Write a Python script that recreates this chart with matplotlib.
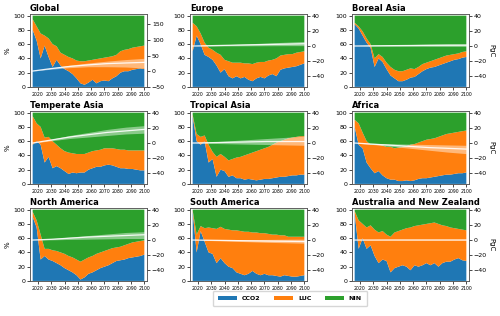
import matplotlib
matplotlib.use("Agg")
import matplotlib.pyplot as plt

years = [2016, 2019, 2022, 2025, 2028, 2031, 2034, 2037, 2040, 2043, 2046, 2049, 2052, 2055,
         2058, 2061, 2064, 2067, 2070, 2073, 2076, 2079, 2082, 2085, 2088, 2091, 2094, 2097, 2100]
pgc_years = [2016, 2030, 2044, 2058, 2072, 2086, 2100]

regions = ["Global", "Europe", "Boreal Asia", "Temperate Asia", "Tropical Asia", "Africa",
           "North America", "South America", "Australia and New Zealand"]

# CCO2 share (%)
cco2 = {
    "Global": [80, 65, 40, 58, 42, 28, 38, 30, 25, 22, 18, 12, 5, 3, 6, 10, 5, 8, 9, 8, 12, 15, 20, 22, 22, 24, 25, 26, 25],
    "Europe": [50, 72, 60, 45, 42, 38, 30, 20, 25, 15, 12, 15, 12, 14, 10, 8, 12, 14, 12, 16, 18, 15, 24, 26, 27, 28, 29, 31, 33],
    "Boreal Asia": [88, 82, 72, 62, 55, 28, 40, 35, 25, 16, 12, 8, 8, 10, 13, 14, 18, 22, 25, 27, 28, 30, 32, 34, 36, 38, 39, 41, 42],
    "Temperate Asia": [55, 60, 55, 30, 38, 22, 25, 22, 18, 14, 16, 15, 16, 16, 20, 22, 24, 24, 26, 27, 26, 24, 22, 22, 21, 21, 20, 19, 19],
    "Tropical Asia": [95, 60, 55, 60, 30, 35, 10, 20, 18, 10, 12, 8, 8, 6, 7, 6, 5, 6, 7, 7, 8, 9, 10, 10, 11, 12, 12, 13, 13],
    "Africa": [80, 55, 50, 30, 22, 15, 18, 12, 8, 6, 6, 4, 4, 5, 4, 5, 7, 8, 8, 9, 10, 11, 12, 13, 13, 14, 15, 15, 16],
    "North America": [90, 75, 30, 35, 30, 28, 25, 22, 18, 15, 12, 8, 2, 5, 10, 12, 15, 18, 20, 22, 25, 28, 29, 30, 32, 33, 34, 35, 37],
    "South America": [98, 40, 70, 55, 40, 38, 25, 32, 25, 20, 18, 12, 10, 8, 10, 14, 10, 8, 10, 8, 8, 7, 6, 8, 7, 6, 6, 7, 8],
    "Australia and New Zealand": [95, 45, 60, 45, 50, 35, 25, 30, 28, 12, 18, 20, 22, 20, 15, 22, 20, 22, 25, 22, 25, 20, 25, 27, 27, 30, 32, 29, 28],
}
# CCO2 + LUC (%), NIN fills the rest up to 100
cco2_luc = {
    "Global": [95, 85, 75, 72, 68, 60, 57, 48, 45, 42, 40, 37, 36, 36, 37, 38, 39, 40, 41, 42, 43, 45, 50, 52, 53, 55, 56, 57, 58],
    "Europe": [90, 85, 75, 62, 55, 52, 48, 45, 38, 36, 34, 34, 34, 33, 33, 32, 34, 35, 35, 37, 38, 40, 44, 45, 46, 46, 48, 49, 50],
    "Boreal Asia": [90, 85, 78, 68, 60, 40, 46, 42, 34, 28, 24, 22, 22, 24, 26, 25, 28, 32, 34, 36, 38, 40, 42, 44, 45, 46, 47, 49, 50],
    "Temperate Asia": [95, 85, 80, 65, 66, 60, 55, 50, 46, 44, 43, 42, 42, 42, 44, 46, 47, 48, 50, 50, 50, 49, 48, 48, 47, 47, 47, 47, 47],
    "Tropical Asia": [97, 70, 66, 68, 55, 45, 38, 42, 38, 33, 35, 37, 38, 40, 42, 44, 46, 48, 50, 52, 55, 58, 60, 62, 64, 65, 66, 67, 67],
    "Africa": [90, 85, 72, 60, 55, 55, 55, 54, 52, 52, 50, 51, 52, 53, 55, 56, 58, 60, 62, 63, 64, 66, 68, 70, 71, 72, 73, 74, 75],
    "North America": [97, 85, 65, 45, 45, 43, 42, 40, 38, 35, 33, 30, 27, 30, 33, 35, 38, 40, 42, 44, 46, 47, 48, 50, 52, 54, 55, 56, 57],
    "South America": [99, 65, 77, 74, 75, 74, 73, 76, 73, 72, 71, 71, 70, 69, 69, 68, 68, 67, 67, 66, 65, 65, 64, 64, 62, 62, 62, 62, 62],
    "Australia and New Zealand": [98, 85, 80, 75, 78, 72, 68, 70, 65, 62, 68, 70, 72, 74, 75, 77, 78, 79, 80, 81, 82, 80, 78, 77, 75, 74, 73, 72, 71],
}
# cumulative carbon (PgC): mean and range
pgc_mean = {
    "Global": [0, 8, 15, 20, 24, 26, 28],
    "Europe": [0, 0.5, 1, 1.5, 2, 2.5, 3],
    "Boreal Asia": [0, 0.3, 0.5, 0.7, 0.9, 1, 1.1],
    "Temperate Asia": [0, 4, 8, 11, 14, 16, 18],
    "Tropical Asia": [0, 0.5, 1, 1.5, 2, 2, 2],
    "Africa": [0, -1.5, -3, -4.5, -6, -7, -8],
    "North America": [0, 1, 2.5, 4, 5, 6, 7],
    "South America": [0, -0.3, -0.6, -1, -1.3, -1.6, -2],
    "Australia and New Zealand": [0, 0, 0.1, 0.1, 0.1, 0.1, 0.1],
}
pgc_lo = {
    "Global": [0, 6, 11, 14, 14, 13, 10],
    "Europe": [0, 0, 0.2, 0.3, 0.4, 0.5, 0.5],
    "Boreal Asia": [0, -0.2, -0.3, -0.4, -0.5, -0.5, -0.5],
    "Temperate Asia": [0, 3, 6, 8, 10, 12, 13],
    "Tropical Asia": [0, -0.5, -1, -1.5, -2, -2.5, -3],
    "Africa": [0, -2, -4.5, -7, -9.5, -12, -14],
    "North America": [0, 0.3, 0.8, 1.2, 1.6, 2, 2],
    "South America": [0, -0.7, -1.5, -2.2, -3, -3.6, -4.2],
    "Australia and New Zealand": [0, -0.2, -0.3, -0.3, -0.3, -0.3, -0.3],
}
pgc_hi = {
    "Global": [0, 10, 19, 26, 32, 37, 41],
    "Europe": [0, 1, 2, 3, 4, 5, 6],
    "Boreal Asia": [0, 1, 1.5, 2, 2.5, 3, 3],
    "Temperate Asia": [0, 5, 10, 14, 18, 21, 23],
    "Tropical Asia": [0, 1.5, 3, 4.5, 6, 7.5, 9],
    "Africa": [0, -0.5, -1, -1.5, -2, -2.5, -3],
    "North America": [0, 1.8, 4, 6, 8, 10, 11],
    "South America": [0, 0.2, 0.4, 0.6, 0.8, 1, 1.2],
    "Australia and New Zealand": [0, 0.2, 0.4, 0.5, 0.5, 0.5, 0.5],
}
labels = ["CCO2", "LUC", "NIN"]
colors = ["tab:blue", "tab:orange", "tab:green"]

fig = plt.figure(figsize=(5, 3.16), dpi=100)
lefts = [0.06, 0.38, 0.704]
bottoms = [0.725, 0.418, 0.111]

for i, reg in enumerate(regions):
    r, c = divmod(i, 3)
    ax = fig.add_axes([lefts[c], bottoms[r], 0.234, 0.23])
    a = cco2[reg]
    b = [t - x for t, x in zip(cco2_luc[reg], a)]
    n = [100 - t for t in cco2_luc[reg]]
    ax.stackplot(years, a, b, n, colors=colors, labels=labels, linewidth=0)
    ax.set_xlim(2014, 2102)
    ax.set_ylim(0, 102)
    ax.set_xticks(range(2020, 2101, 10))
    ax.set_yticks([0, 20, 40, 60, 80, 100])
    ax.tick_params(axis="x", labelsize=3.3, length=2, width=0.5, pad=1.5)
    ax.tick_params(axis="y", labelsize=4.5, length=2, width=0.5, pad=1.5)
    ax.set_title(reg, loc="left", fontsize=6, fontweight="bold", pad=2)
    if c == 0:
        ax.set_ylabel("%", fontsize=5, labelpad=2)
    for s in ax.spines.values():
        s.set_linewidth(0.5)
        s.set_color("#555555")

    ax2 = ax.twinx()
    ax2.fill_between(pgc_years, pgc_lo[reg], pgc_hi[reg], color="white", alpha=0.45, linewidth=0)
    ax2.plot(pgc_years, pgc_mean[reg], color="white", linewidth=0.9, alpha=0.9)
    if reg == "Global":
        ax2.set_ylim(-51, 183)
        ax2.set_yticks([-50, 0, 50, 100, 150])
    else:
        ax2.set_ylim(-54, 42)
        ax2.set_yticks([-40, -20, 0, 20, 40])
    ax2.tick_params(labelsize=4.5, length=2, width=0.5, pad=1.5)
    for s in ax2.spines.values():
        s.set_linewidth(0.5)
        s.set_color("#555555")
    if c == 2:
        ax2.set_ylabel("PgC", fontsize=5, rotation=270, labelpad=5)
    if i == 0:
        handles, hl = ax.get_legend_handles_labels()

fig.legend(handles, hl, loc="center", bbox_to_anchor=(0.58, 0.055), ncol=3,
           prop={"size": 4.5, "weight": "bold"}, frameon=True, handlelength=3,
           columnspacing=2.2, borderpad=0.8)
fig.savefig("out.png", dpi=100)
